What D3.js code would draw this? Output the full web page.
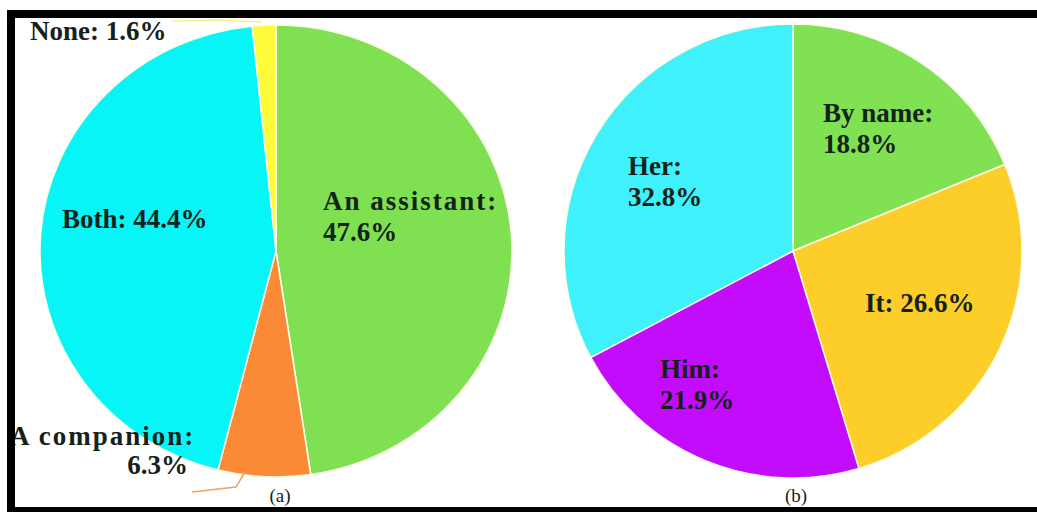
<!DOCTYPE html>
<html>
<head>
<meta charset="utf-8">
<script src="https://cdn.jsdelivr.net/npm/d3@7"></script>
<style>
  html, body { margin: 0; padding: 0; background: #fff; }
  svg { display: block; }
</style>
</head>
<body>
<div id="chart"></div>
<script>
// pie (a): what is it called
const labelsA = ["An assistant", "A companion", "Both", "None"];
const valuesA = [47.6, 6.3, 44.4, 1.6];
const colorsA = ["#7fe152", "#fb8a36", "#06f6f8", "#fdfb3a"];

// pie (b): how is it referred to
const labelsB = ["By name", "It", "Him", "Her"];
const valuesB = [18.8, 26.6, 21.9, 32.8];
const colorsB = ["#80e152", "#fdcd2a", "#c20cfb", "#3ff1fa"];

const width = 1037, height = 512;

const svg = d3.select("#chart").append("svg")
  .attr("width", width)
  .attr("height", height);

const pie = d3.pie().sort(null).value(function(d) { return d.value; });

function drawPie(cx, cy, rx, ry, labels, values, colors) {
  const r = ry;
  const arc = d3.arc().innerRadius(0).outerRadius(r);
  const data = labels.map(function(l, i) { return {label: l, value: values[i], color: colors[i]}; });
  const g = svg.append("g")
    .attr("transform", "translate(" + cx + "," + cy + ") scale(" + (rx / ry) + ",1)");
  g.selectAll("path")
    .data(pie(data))
    .enter().append("path")
    .attr("d", arc)
    .attr("fill", function(d) { return d.data.color; })
    .attr("stroke", "#fbfbe6")
    .attr("stroke-width", 1.5);
  return data;
}

drawPie(276, 251, 236, 226, labelsA, valuesA, colorsA);
drawPie(793, 251, 229, 227, labelsB, valuesB, colorsB);

const fmt = function(v) { return v.toFixed(1) + "%"; };

// leader lines
svg.append("polyline")
  .attr("points", "172,21 215,20 262,22")
  .attr("fill", "none")
  .attr("stroke", "#f7f08a")
  .attr("stroke-width", 1.5);
svg.append("polyline")
  .attr("points", "192,492 236,487 245,472")
  .attr("fill", "none")
  .attr("stroke", "#f0a060")
  .attr("stroke-width", 1.5);

// text labels: [x, y, lines, anchor, letter-spacing]
const textsA = [
  [323, 210, [labelsA[0] + ":", fmt(valuesA[0])], "start", 2],
  [62, 228, [labelsA[2] + ": " + fmt(valuesA[2])], "start", 0],
  [30, 40, [labelsA[3] + ": " + fmt(valuesA[3])], "start", 0],
  [10, 445, [labelsA[1] + ":"], "start", 2],
  [188, 474, [fmt(valuesA[1])], "end", 0]
];
const textsB = [
  [823, 122, [labelsB[0] + ":", fmt(valuesB[0])], "start", 0],
  [865, 312, [labelsB[1] + ": " + fmt(valuesB[1])], "start", 0],
  [660, 378, [labelsB[2] + ":", fmt(valuesB[2])], "start", 0],
  [628, 175, [labelsB[3] + ":", fmt(valuesB[3])], "start", 0]
];

textsA.concat(textsB).forEach(function(t) {
  const txt = svg.append("text")
    .attr("x", t[0])
    .attr("y", t[1])
    .attr("text-anchor", t[3])
    .attr("font-family", "'Liberation Serif', serif")
    .attr("font-weight", "bold")
    .attr("font-size", 27)
    .attr("fill", "#14221a");
  t[2].forEach(function(line, i) {
    txt.append("tspan")
      .attr("x", t[0])
      .attr("dy", i === 0 ? 0 : 31)
      .attr("letter-spacing", i === 0 ? t[4] : 0)
      .text(line);
  });
});

svg.append("text").attr("x", 280).attr("y", 502).attr("text-anchor", "middle")
  .attr("font-family", "'Liberation Serif', serif").attr("font-size", 19).attr("fill", "#222").text("(a)");
svg.append("text").attr("x", 796).attr("y", 502).attr("text-anchor", "middle")
  .attr("font-family", "'Liberation Serif', serif").attr("font-size", 19).attr("fill", "#222").text("(b)");

// black frame
svg.append("rect").attr("x", 7).attr("y", 10).attr("width", width - 7).attr("height", 8).attr("fill", "#000");
svg.append("rect").attr("x", 7).attr("y", 10).attr("width", 8).attr("height", height - 10).attr("fill", "#000");
svg.append("rect").attr("x", 7).attr("y", 507).attr("width", width - 7).attr("height", 5).attr("fill", "#000");
</script>
</body>
</html>
